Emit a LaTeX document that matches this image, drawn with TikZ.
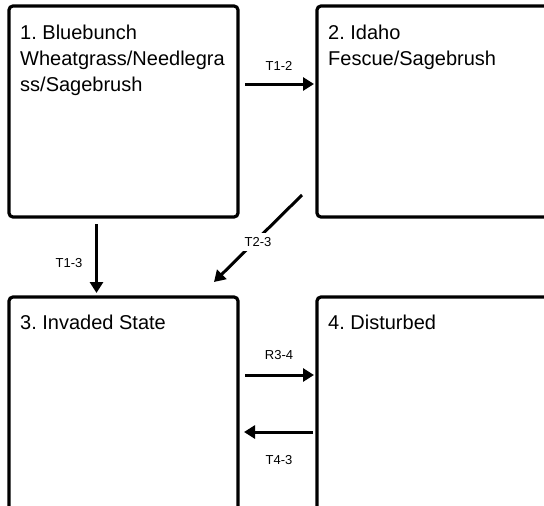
\documentclass[tikz,border=0pt]{standalone}
\usepackage{fontspec}
\setmainfont{Liberation Sans}
\frenchspacing
\usetikzlibrary{arrows.meta}
\tikzset{
  statebox/.style={draw=black, line width=3.2pt, rounded corners=4pt, fill=white, inner sep=0pt},
  boxtext/.style={anchor=north west, inner sep=0pt, align=left, font=\fontsize{20}{26}\selectfont},
  arr/.style={line width=3pt, -{Triangle[length=11pt,width=13pt]}},
  lbl/.style={font=\fontsize{13}{15}\selectfont, inner sep=1.5pt},
}
\begin{document}
\begin{tikzpicture}[x=1pt,y=-1pt]
\clip (0,0) rectangle (544,506);
\fill[white] (0,0) rectangle (544,506);
% boxes
\node[statebox, minimum width=229pt, minimum height=211pt] (b1) at (123.5,111.5) {};
\node[statebox, minimum width=250pt, minimum height=211pt] (b2) at (442,111.5) {};
\node[statebox, minimum width=229pt, minimum height=240pt] (b3) at (123.5,417) {};
\node[statebox, minimum width=250pt, minimum height=240pt] (b4) at (442,417) {};
% texts
\node[boxtext] (t1) at (20,25) {1. Bluebunch\\Wheatgrass/Needlegra\\ss/Sagebrush};
\node[boxtext] (t2) at (328,25) {2. Idaho\\Fescue/Sagebrush};
\node[boxtext] (t3) at (20,315) {3. Invaded State};
\node[boxtext] (t4) at (328,315) {4. Disturbed};
% connector ends
\coordinate (c12s) at (245,84);
\coordinate (c12e) at (314,84);
\coordinate (c13s) at (96.5,224);
\coordinate (c13e) at (96.5,293);
\coordinate (c23s) at (302,195);
\coordinate (c23e) at (214,282);
\coordinate (c34s) at (245,375);
\coordinate (c34e) at (314,375);
\coordinate (c43s) at (313,432);
\coordinate (c43e) at (244,432);
% connectors
\draw[arr] (c12s) -- (c12e);
\draw[arr] (c13s) -- (c13e);
\draw[arr] (c23s) -- (c23e);
\draw[arr] (c34s) -- (c34e);
\draw[arr] (c43s) -- (c43e);
% labels
\node[lbl] (l12) at (279,66) {T1-2};
\node[lbl] (l13) at (69,263) {T1-3};
\node[lbl, fill=white, inner sep=4pt] (l23) at (258,242) {T2-3};
\node[lbl] (l34) at (279,355) {R3-4};
\node[lbl] (l43) at (279,460) {T4-3};
\end{tikzpicture}
\end{document}
